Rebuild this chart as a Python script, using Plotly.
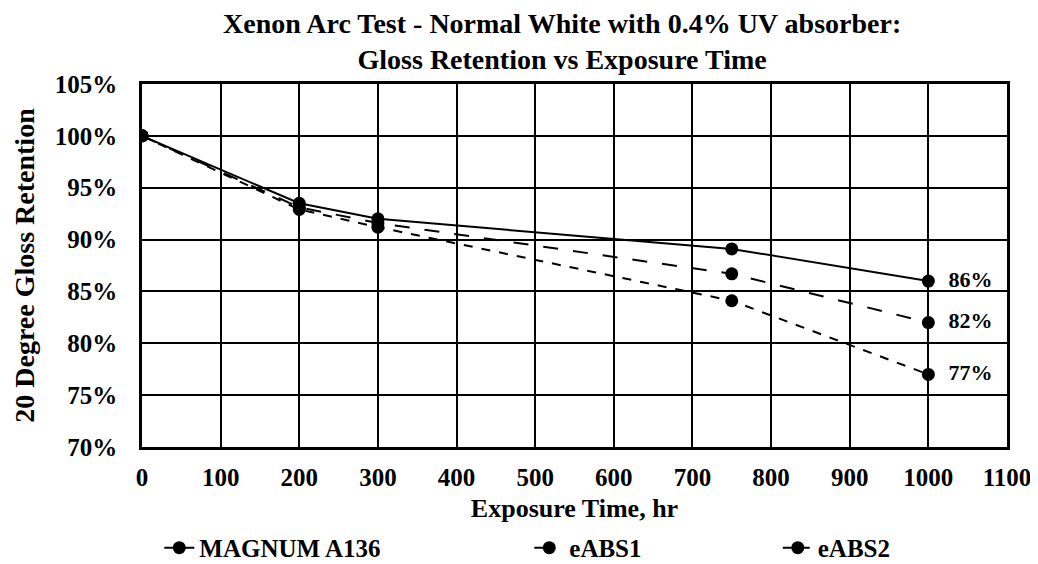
import plotly.graph_objects as go

hours = [0, 200, 300, 750, 1000]
magnum = [1.00, 0.935, 0.920, 0.891, 0.860]
eabs1 = [1.00, 0.931, 0.916, 0.867, 0.820]
eabs2 = [1.00, 0.929, 0.912, 0.841, 0.770]
series_names = ["MAGNUM A136", "eABS1", "eABS2"]
legend_pad = [23, 21, 0]
dashes = ["solid", "longdash", "dash"]
x_ticks = list(range(0, 1101, 100))
y_ticks = [0.70, 0.75, 0.80, 0.85, 0.90, 0.95, 1.00, 1.05]
title_lines = ["Xenon Arc Test - Normal White with 0.4% UV absorber:",
               "Gloss Retention vs Exposure Time"]

FONT = "Liberation Serif"
NB = "\u00a0"

def end_labels(vals):
    return [""] * (len(vals) - 1) + [f"<b>{NB}{NB}{vals[-1]*100:.0f}%</b>"]

fig = go.Figure()
for name, vals, dash, pad in zip(series_names, [magnum, eabs1, eabs2], dashes, legend_pad):
    fig.add_trace(go.Scatter(
        x=hours, y=vals, name=f"<b>{name}</b>{NB * pad}", mode="lines+markers+text",
        line=dict(color="black", width=2, dash=dash),
        marker=dict(color="black", size=13, symbol="circle"),
        text=end_labels(vals), textposition="middle right",
        textfont=dict(family=FONT, size=22, color="black"),
    ))

# chart title (two lines) as one annotation
fig.add_annotation(
    text="<b>" + "<br>".join(title_lines) + "</b>", xref="paper", yref="paper",
    x=0.486, y=1.118, xanchor="center", yanchor="middle", showarrow=False,
    borderpad=0, font=dict(family=FONT, size=28, color="black"),
)

fig.update_layout(
    width=1030, height=556,
    margin=dict(l=134, r=31, t=76, b=117, autoexpand=False),
    paper_bgcolor="white", plot_bgcolor="white",
    font=dict(family=FONT, color="black"),
    legend=dict(
        orientation="h", x=0.02, xanchor="left", y=-0.278, yanchor="middle",
        font=dict(family=FONT, size=25, color="black"),
    ),
)
fig.update_xaxes(
    range=[0, 1100], tickvals=x_ticks, ticktext=[f"<b>{v}</b>" for v in x_ticks],
    showgrid=True, gridcolor="black", gridwidth=1.5,
    showline=True, linecolor="black", linewidth=2.5, mirror=True,
    zeroline=False, ticks="", automargin=False, ticklabelstandoff=6,
    tickfont=dict(family=FONT, size=25, color="black"),
    title=dict(text="<b>Exposure Time, hr</b>", font=dict(family=FONT, size=26, color="black"), standoff=10),
)
fig.update_yaxes(
    range=[0.70, 1.05], tickvals=y_ticks, ticktext=[f"<b>{v*100:.0f}%</b>" for v in y_ticks],
    showgrid=True, gridcolor="black", gridwidth=1.5,
    showline=True, linecolor="black", linewidth=2.5, mirror=True,
    zeroline=False, ticks="", automargin=False, ticklabelstandoff=17,
    tickfont=dict(family=FONT, size=25, color="black"),
    title=dict(text="<b>20 Degree Gloss Retention</b>", font=dict(family=FONT, size=28, color="black"), standoff=12),
)

fig.write_html("out.html")
